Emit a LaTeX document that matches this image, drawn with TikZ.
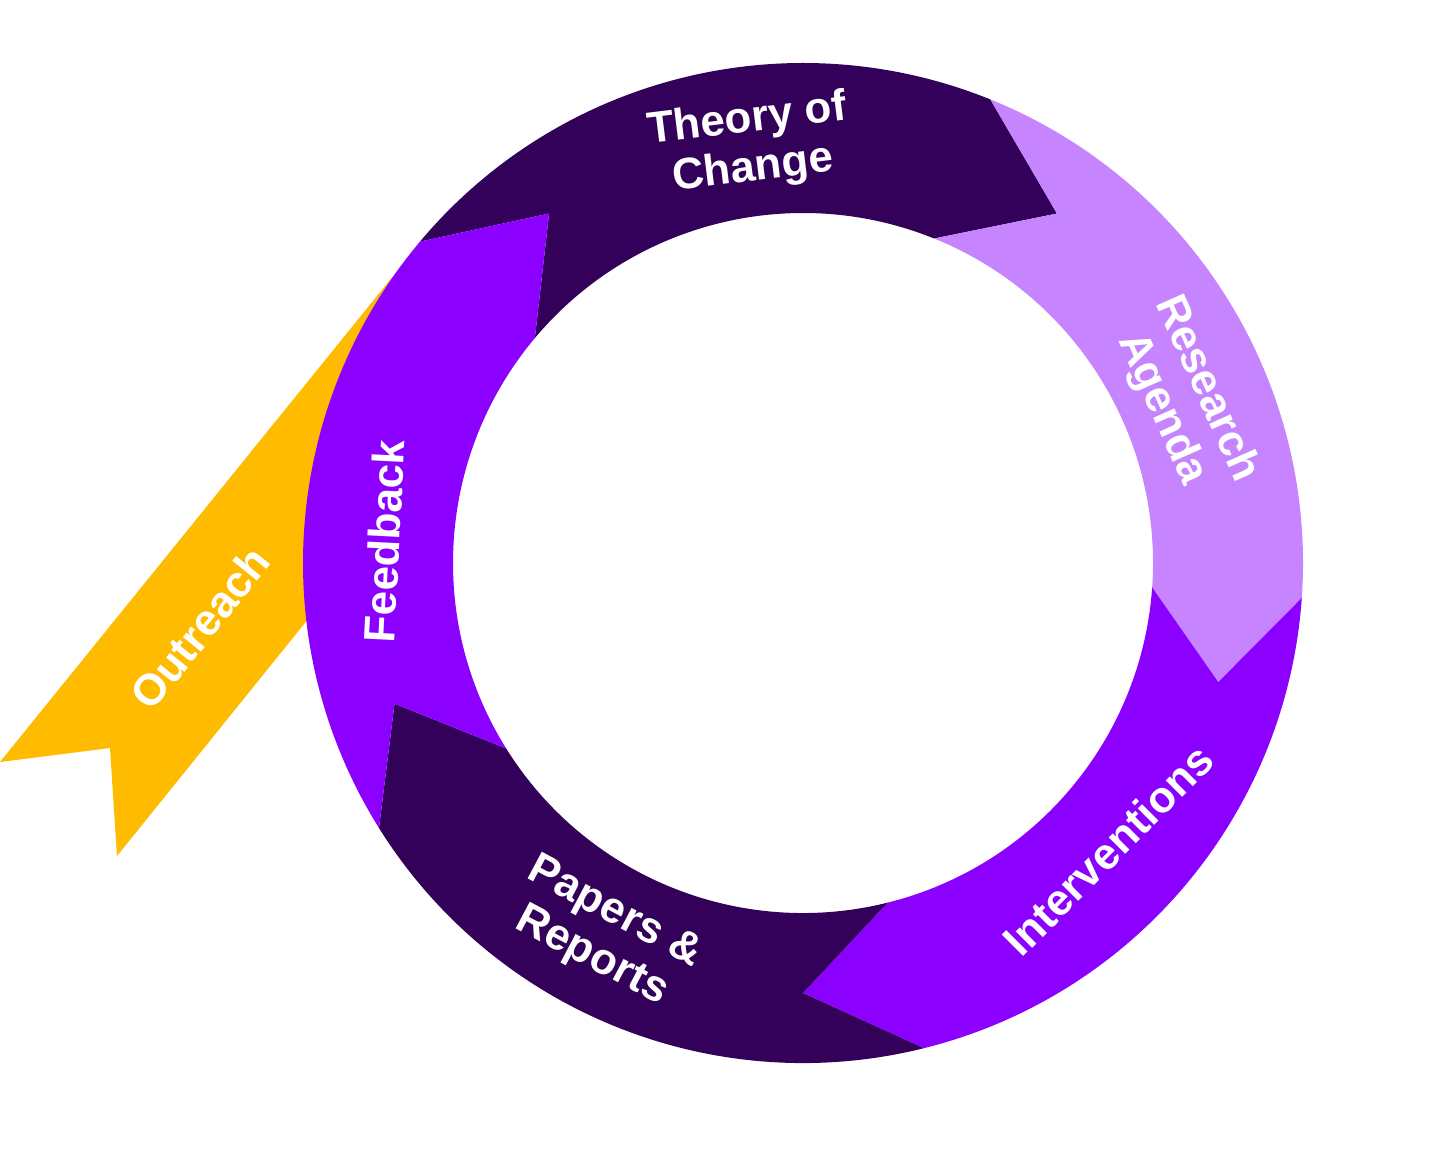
\documentclass[tikz,border=0pt]{standalone}
\usepackage{fontspec}
\setmainfont{Liberation Sans}
\usetikzlibrary{positioning}

\definecolor{darkplum}{HTML}{33005A}
\definecolor{lilac}{HTML}{C684FF}
\definecolor{violet}{HTML}{8C00FF}
\definecolor{amber}{HTML}{FFBB00}

\begin{document}
\begin{tikzpicture}[
  seglabel/.style={text=white, font=\bfseries\fontsize{12.5}{14}\selectfont, align=center, inner sep=0pt},
]
\useasboundingbox (-8.03,-5.99) rectangle (6.30,5.63);

% outreach ribbon (behind the ring)
\fill[amber] (-8.03,-1.99) -- (-6.93,-1.85) -- (-6.86,-2.93) -- (-4.03,0.58) -- (-3.88,3.14) -- cycle;

% ring segments: outer arc, arrow head, inner arc, notched tail
\fill[darkplum] (140:5) arc[start angle=140, end angle=68, radius=5] -- (54:4.32) -- (68:3.5)
  arc[start angle=68, end angle=140, radius=3.5] -- (126:4.32) -- cycle;
\fill[lilac] (68:5) arc[start angle=68, end angle=-4, radius=5] -- (-16:4.32) -- (-4:3.5)
  arc[start angle=-4, end angle=68, radius=3.5] -- (54:4.32) -- cycle;
\fill[violet] (-4:5) arc[start angle=-4, end angle=-76, radius=5] -- (-90:4.30) -- (-76:3.5)
  arc[start angle=-76, end angle=-4, radius=3.5] -- (-16:4.32) -- cycle;
\fill[darkplum] (-76:5) arc[start angle=-76, end angle=-148, radius=5] -- (-161:4.32) -- (-148:3.5)
  arc[start angle=-148, end angle=-76, radius=3.5] -- (-90:4.30) -- cycle;
\fill[violet] (-148:5) arc[start angle=-148, end angle=-220, radius=5] -- (-234:4.32) -- (-220:3.5)
  arc[start angle=-220, end angle=-148, radius=3.5] -- (-161:4.32) -- cycle;

% labels
\node[seglabel, rotate=7] (theory) at (-0.53,4.18) {Theory of\\Change};
\node[seglabel, rotate=-66] (agenda) at (3.81,1.64) {Research\\Agenda};
\node[seglabel, rotate=45] (interv) at (3.05,-2.87) {Interventions};
\node[seglabel, rotate=-28] (papers) at (-2.00,-3.72) {Papers \&\\Reports};
\node[seglabel, rotate=87] (feedback) at (-4.19,0.22) {Feedback};
\node[seglabel, rotate=51] (outreach) at (-6.03,-0.65) {Outreach};
\end{tikzpicture}
\end{document}
